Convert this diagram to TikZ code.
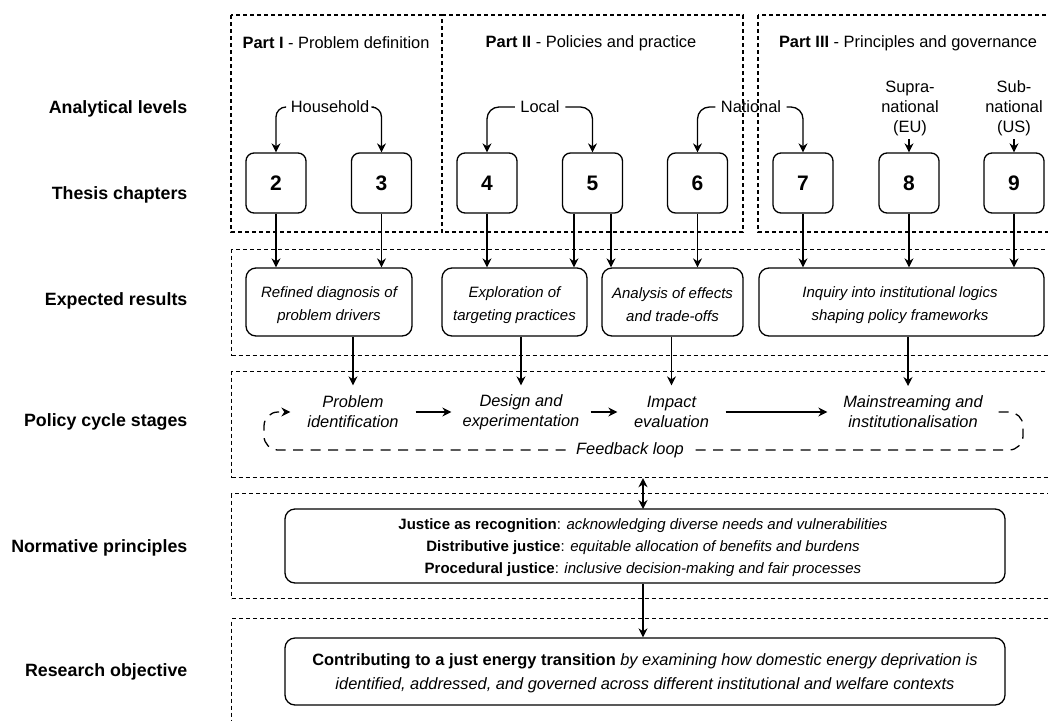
\documentclass[tikz,border=0pt]{standalone}
\usepackage{fontspec}
\setmainfont{Liberation Sans}
\usetikzlibrary{arrows.meta}
\begin{document}
\begin{tikzpicture}[x=1pt,y=-1pt,line width=1.3pt,
  partbox/.style={draw,dash pattern=on 4pt off 3pt,line width=1.2pt},
  rowbox/.style={draw,dash pattern=on 4pt off 3pt,line width=1.2pt,anchor=north west,inner sep=0pt,minimum width=840pt},
  chap/.style={draw,rounded corners=8pt,minimum width=60pt,minimum height=60pt,inner sep=0pt,font=\fontsize{21}{25}\selectfont\bfseries},
  resbox/.style={draw,rounded corners=10pt,inner sep=0pt,minimum height=68pt},
  restext/.style={inner sep=0pt,align=center,font=\fontsize{15}{23}\selectfont\itshape},
  bigbox/.style={draw,rounded corners=10pt,inner sep=0pt,minimum width=720pt},
  bigtext/.style={inner sep=0pt,align=center},
  rowlab/.style={anchor=east,inner sep=0pt,font=\fontsize{17.8}{21}\selectfont\bfseries},
  lvl/.style={inner sep=4pt,align=center,font=\fontsize{16.4}{20}\selectfont},
  parttitle/.style={inner sep=0pt,font=\fontsize{16.4}{20}\selectfont},
  stage/.style={inner sep=0pt,minimum height=52pt,align=center,font=\fontsize{16.4}{20}\selectfont\itshape},
  arr/.style={-{Stealth[length=9pt,width=9pt]},line width=1.3pt},
  darr/.style={{Stealth[length=9pt,width=9pt]}-{Stealth[length=9pt,width=9pt]},line width=1.3pt},
  fb/.style={-{Stealth[length=9pt,width=9pt]},line width=1.3pt,dash pattern=on 10pt off 7.5pt,rounded corners=14pt}
]
\useasboundingbox (0,0) rectangle (1048,720);
\clip (0,0) rectangle (1048,720);
\fill[white] (0,0) rectangle (1048,720);

% Part boxes
\draw[partbox] (231,15) rectangle (442,232);
\draw[partbox] (442,15) -- (743,15) -- (743,232) -- (442,232);
\draw[partbox] (758,15) rectangle (1070,232);
\node[parttitle] (pt1) at (336,43) {\textbf{Part I} - Problem definition};
\node[parttitle] (pt2) at (591,43) {\textbf{Part II} - Policies and practice};
\node[parttitle] (pt3) at (908,43) {\textbf{Part III} - Principles and governance};

% Row boxes
\node[rowbox,minimum height=106pt] (rowE) at (231,249) {};
\node[rowbox,minimum height=106pt] (rowP) at (231,371) {};
\node[rowbox,minimum height=105pt] (rowN) at (231,493) {};
\node[rowbox,minimum height=130pt] (rowR) at (231,618) {};

% Row labels
\node[rowlab] (l1) at (188,109) {Analytical levels};
\node[rowlab] (l2) at (188,195) {Thesis chapters};
\node[rowlab] (l3) at (188,301) {Expected results};
\node[rowlab] (l4) at (188,422) {Policy cycle stages};
\node[rowlab] (l5) at (188,548) {Normative principles};
\node[rowlab] (l6) at (188,672) {Research objective};

% Chapters
\node[chap] (c2) at (276,183) {2};
\node[chap] (c3) at (381.5,183) {3};
\node[chap] (c4) at (487,183) {4};
\node[chap] (c5) at (592.5,183) {5};
\node[chap] (c6) at (697.5,183) {6};
\node[chap] (c7) at (803,183) {7};
\node[chap] (c8) at (909,183) {8};
\node[chap] (c9) at (1014,183) {9};

% Analytical levels
\node[lvl] (hh) at (330,107) {Household};
\node[lvl,inner xsep=5pt] (loc) at (540,107) {Local};
\node[lvl,inner xsep=5pt] (nat) at (751,107) {National};
\node[lvl,inner sep=3pt] (sup) at (910,108) {Supra-\\national\\(EU)};
\node[lvl,inner sep=3pt] (sub) at (1014,108) {Sub-\\national\\(US)};

\draw[arr,rounded corners=10pt] (hh.west) -| (c2.north);
\draw[arr,rounded corners=10pt] (hh.east) -| (c3.north);
\draw[arr,rounded corners=12pt] (loc.west) -| (c4.north);
\draw[arr,rounded corners=12pt] (loc.east) -| (c5.north);
\draw[arr,rounded corners=12pt] (nat.west) -| (c6.north);
\draw[arr,rounded corners=12pt] (nat.east) -| (c7.north);
\draw[arr] (sup.south -| c8.north) -- (c8.north);
\draw[arr] (sub.south) -- (c9.north);

% Expected results
\node[resbox,minimum width=166pt] (eA) at (329,302) {};
\node[resbox,minimum width=145pt] (eB) at (514.5,302) {};
\node[resbox,minimum width=141pt] (eC) at (672.5,302) {};
\node[resbox,minimum width=285pt] (eD) at (901.5,302) {};
\node[restext] (eAt) at (329,305) {Refined diagnosis of\\problem drivers};
\node[restext] (eBt) at (514.5,305) {Exploration of\\targeting practices};
\node[restext] (eCt) at (672.5,305) {Analysis of effects\\and trade-offs};
\node[restext] (eDt) at (900,305) {Inquiry into institutional logics\\shaping policy frameworks};

\draw[arr] (c2.south) -- (c2.south |- eA.north);
\draw[arr] (c3.south) -- (c3.south |- eA.north);
\draw[arr] (c4.south) -- (c4.south |- eB.north);
\draw[arr] ([xshift=-18.5pt]c5.south) -- ([xshift=-18.5pt]c5.south |- eB.north);
\draw[arr] ([xshift=18.5pt]c5.south) -- ([xshift=18.5pt]c5.south |- eC.north);
\draw[arr] (c6.south) -- (c6.south |- eC.north);
\draw[arr] (c7.south) -- (c7.south |- eD.north);
\draw[arr] (c8.south) -- (c8.south |- eD.north);
\draw[arr] (c9.south) -- (c9.south |- eD.north);

% Policy cycle stages
\node[stage,minimum width=124pt] (p1) at (353,412) {Problem\\identification};
\node[stage,minimum width=138pt] (p2) at (521,412) {Design and\\experimentation};
\node[stage,minimum width=107pt] (p3) at (671.5,412) {Impact\\evaluation};
\node[stage,minimum width=170pt] (p4) at (913,412) {Mainstreaming and\\institutionalisation};
\coordinate (p4in) at (908,386);

\draw[arr] (eA.south -| p1.north) -- (p1.north);
\draw[arr] (eB.south -| p2.north) -- (p2.north);
\draw[arr] (eC.south -| p3.north) -- (p3.north);
\draw[arr] (eD.south -| p4in) -- (p4in);

\draw[arr] (p1.east) -- (p2.west);
\draw[arr] (p2.east) -- (p3.west);
\draw[arr] (p3.east) -- (p4.west);

\draw[fb] (p4.east) -- (1023,412) -- (1023,450) -- (264,450) -- (264,412) -- (p1.west);
\node[fill=white,inner xsep=5pt,inner ysep=2pt,font=\fontsize{16.4}{20}\selectfont\itshape] (fbl) at (630,450) {Feedback loop};

% Normative principles
\node[bigbox,minimum height=74pt] (norm) at (645,546) {};
\node[bigtext,font=\fontsize{15}{22}\selectfont] (normt) at (643,548)
  {\textbf{Justice as recognition}: \textit{acknowledging diverse needs and vulnerabilities}\\
   \textbf{Distributive justice}: \textit{equitable allocation of benefits and burdens}\\
   \textbf{Procedural justice}: \textit{inclusive decision-making and fair processes}};

% Research objective
\node[bigbox,minimum height=67pt] (res) at (645,671.5) {};
\node[bigtext,font=\fontsize{16.4}{24}\selectfont] (rest) at (645,673.5)
  {\textbf{Contributing to a just energy transition} \textit{by examining how domestic energy deprivation is}\\
   \textit{identified, addressed, and governed across different institutional and welfare contexts}};

\coordinate (mid) at (643,509);
\draw[darr] (rowP.south -| mid) -- (mid);
\draw[arr] (norm.south -| mid) -- (res.north -| mid);
\end{tikzpicture}
\end{document}
